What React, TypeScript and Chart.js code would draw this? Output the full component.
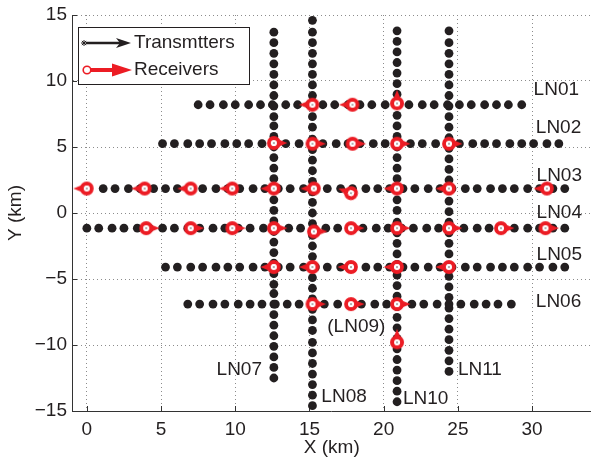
import React, { useEffect, useRef } from "react";
import { Chart, registerables } from "chart.js";

Chart.register(...registerables);

// ---- axes ----
const xTicks = [0, 5, 10, 15, 20, 25, 30];
const yTicks = [-15, -10, -5, 0, 5, 10, 15];
const xMin = -1;
const xMax = 33.9;
const yMin = -15;
const yMax = 15;

// ---- transmitter stations: horizontal lines (x positions, km) ----
const ln01Y = 8.2;
const ln01X = [7.5, 8.3, 9.2, 10.0, 10.9, 11.7, 12.5, 13.4, 14.2, 15.0, 15.9, 16.7, 17.6, 18.4, 19.2, 20.1, 20.9, 21.7, 22.6, 23.4, 24.3, 25.1, 25.9, 26.8, 27.6, 28.4, 29.3];
const ln02Y = 5.25;
const ln02X = [5.1, 5.9, 6.8, 7.6, 8.4, 9.3, 10.1, 10.9, 11.8, 12.6, 13.4, 14.3, 15.1, 15.9, 16.8, 17.6, 18.4, 19.3, 20.1, 21.0, 21.8, 22.6, 23.5, 24.3, 25.1, 26.0, 26.8, 27.6, 28.5, 29.3, 30.1, 31.0, 31.8];
const ln03Y = 1.85;
const ln03X = [1.1, 1.9, 2.8, 3.6, 4.5, 5.3, 6.1, 7.0, 7.8, 8.7, 9.5, 10.3, 11.2, 12.0, 12.9, 13.7, 14.6, 15.4, 16.2, 17.1, 17.9, 18.8, 19.6, 20.4, 21.3, 22.1, 23.0, 23.8, 24.6, 25.5, 26.3, 27.2, 28.0, 28.8, 29.7, 30.5, 31.4, 32.2];
const ln04Y = -1.15;
const ln04X = [0.0, 0.8, 1.7, 2.5, 3.4, 4.2, 5.1, 5.9, 6.8, 7.6, 8.5, 9.3, 10.2, 11.0, 11.9, 12.7, 13.6, 14.4, 15.3, 16.1, 16.9, 17.8, 18.6, 19.5, 20.3, 21.2, 22.0, 22.9, 23.7, 24.6, 25.4, 26.3, 27.1, 28.0, 28.8, 29.7, 30.5, 31.4, 32.2];
const ln05Y = -4.1;
const ln05X = [5.3, 6.1, 7.0, 7.8, 8.7, 9.5, 10.3, 11.2, 12.0, 12.9, 13.7, 14.6, 15.4, 16.2, 17.1, 17.9, 18.8, 19.6, 20.4, 21.3, 22.1, 23.0, 23.8, 24.6, 25.5, 26.3, 27.2, 28.0, 28.8, 29.7, 30.5, 31.4, 32.2];
const ln06Y = -6.9;
const ln06X = [6.8, 7.6, 8.5, 9.3, 10.2, 11.0, 11.8, 12.7, 13.5, 14.3, 15.2, 16.0, 16.9, 17.7, 18.5, 19.4, 20.2, 21.0, 21.9, 22.7, 23.6, 24.4, 25.2, 26.1, 26.9, 27.7, 28.6];

// ---- transmitter stations: vertical lines (y positions, km) ----
const ln07X = 12.6;
const ln07Y = [13.7, 12.9, 12.1, 11.3, 10.5, 9.7, 8.9, 8.1, 7.3, 6.6, 5.8, 5.0, 4.2, 3.4, 2.6, 1.8, 1.0, 0.2, -0.6, -1.4, -2.2, -3.0, -3.8, -4.6, -5.4, -6.1, -6.9, -7.7, -8.5, -9.3, -10.1, -10.9, -11.7, -12.5];
const ln08X = 15.2;
const ln08Y = [14.6, 13.7, 12.9, 12.1, 11.3, 10.5, 9.7, 8.9, 8.1, 7.3, 6.5, 5.6, 4.8, 4.0, 3.2, 2.4, 1.6, 0.8, 0.0, -0.8, -1.7, -2.5, -3.3, -4.1, -4.9, -5.7, -6.5, -7.3, -8.1, -8.9, -9.8, -10.6, -11.4, -12.2, -13.0, -13.8, -14.6];
const ln10X = 20.9;
const ln10Y = [13.8, 13.0, 12.2, 11.4, 10.6, 9.8, 9.0, 8.2, 7.4, 6.6, 5.8, 5.0, 4.2, 3.4, 2.6, 1.8, 1.0, 0.2, -0.7, -1.5, -2.3, -3.1, -3.9, -4.7, -5.5, -6.3, -7.1, -7.9, -8.7, -9.5, -10.3, -11.1, -11.9, -12.7, -13.5, -14.3];
const ln11X = 24.4;
const ln11Y = [13.8, 12.9, 12.1, 11.3, 10.5, 9.7, 8.9, 8.1, 7.3, 6.5, 5.7, 4.9, 4.1, 3.3, 2.5, 1.7, 0.9, 0.1, -0.7, -1.5, -2.3, -3.1, -4.0, -4.8, -5.6, -6.4, -7.2, -8.0, -8.8, -9.6, -10.4, -11.2, -12.0];

// ---- receivers (x, y in km, arrow direction in degrees, 0 = east, 180 = west, 270 = north) ----
const recvX = [15.2, 17.9, 20.9, 12.6, 15.2, 17.9, 20.9, 24.4, 0.0, 3.9, 7.0, 9.8, 12.6, 15.3, 17.8, 20.9, 24.4, 31.0, 4.0, 7.0, 9.8, 12.6, 15.3, 17.8, 20.9, 24.4, 27.9, 30.9, 12.6, 15.2, 17.8, 20.9, 24.4, 15.2, 17.8, 20.9, 20.9];
const recvY = [8.2, 8.2, 8.3, 5.3, 5.25, 5.25, 5.25, 5.25, 1.85, 1.85, 1.85, 1.85, 1.85, 1.85, 1.5, 1.85, 1.85, 1.85, -1.15, -1.15, -1.15, -1.15, -1.4, -1.15, -1.15, -1.15, -1.15, -1.15, -4.1, -4.1, -4.1, -4.1, -4.1, -6.9, -6.9, -6.9, -9.8];
const recvDir = [180, 180, 270, 0, 0, 0, 0, 0, 180, 180, 180, 180, 180, 180, 200, 180, 180, 180, 0, 0, 0, 0, 0, 0, 0, 0, 0, 0, 180, 180, 180, 180, 180, 0, 0, 0, 270];

// ---- line labels ----
const labelText = ["LN01", "LN02", "LN03", "LN04", "LN05", "LN06", "LN07", "LN08", "(LN09)", "LN10", "LN11"];
const labelX = [30.1, 30.25, 30.3, 30.3, 30.3, 30.25, 11.8, 15.8, 16.2, 21.3, 25.0];
const labelY = [9.35, 6.45, 2.85, 0.0, -3.2, -6.75, -11.9, -13.9, -8.65, -14.05, -11.9];
const labelAlign: CanvasTextAlign[] = ["left", "left", "left", "left", "left", "left", "right", "left", "left", "left", "left"];

const legendLabels = ["Transmtters", "Receivers"];
const xTitle = "X (km)";
const yTitle = "Y (km)";

const BLACK = "#231f20";
const RED = "#ec1c24";
const FONT = "'Liberation Sans', Arial, Helvetica, sans-serif";
const TEXT = "#231f20";

function makeReceiverImage(): HTMLCanvasElement {
  const c = document.createElement("canvas");
  c.width = 36;
  c.height = 36;
  const g = c.getContext("2d")!;
  const cx = 18, cy = 18;
  g.fillStyle = RED;
  g.beginPath();
  g.moveTo(cx + 3, cy - 4.2);
  g.lineTo(cx + 13.5, cy);
  g.lineTo(cx + 3, cy + 4.2);
  g.closePath();
  g.fill();
  g.beginPath();
  g.arc(cx, cy, 5.0, 0, Math.PI * 2);
  g.fillStyle = "#ffffff";
  g.fill();
  g.lineWidth = 3.8;
  g.strokeStyle = RED;
  g.stroke();
  g.beginPath();
  g.fillStyle = BLACK;
  g.arc(cx, cy, 0.7, 0, Math.PI * 2);
  g.fill();
  return c;
}

const hLines = [
  { xs: ln01X, y: ln01Y },
  { xs: ln02X, y: ln02Y },
  { xs: ln03X, y: ln03Y },
  { xs: ln04X, y: ln04Y },
  { xs: ln05X, y: ln05Y },
  { xs: ln06X, y: ln06Y },
];
const vLines = [
  { x: ln07X, ys: ln07Y },
  { x: ln08X, ys: ln08Y },
  { x: ln10X, ys: ln10Y },
  { x: ln11X, ys: ln11Y },
];

export default function App() {
  const ref = useRef<HTMLCanvasElement | null>(null);

  useEffect(() => {
    document.body.style.margin = "0";
    const canvas = ref.current;
    if (!canvas) return;
    const recvImg = makeReceiverImage();

    const txDatasets: any[] = [];
    hLines.forEach((l) => {
      txDatasets.push({
        data: l.xs.map((x) => ({ x, y: l.y })),
        pointRadius: 4.4,
        pointBackgroundColor: BLACK,
        pointBorderWidth: 0,
        showLine: false,
        order: 2,
      });
    });
    vLines.forEach((l) => {
      txDatasets.push({
        data: l.ys.map((y) => ({ x: l.x, y })),
        pointRadius: 4.4,
        pointBackgroundColor: BLACK,
        pointBorderWidth: 0,
        showLine: false,
        order: 2,
      });
    });

    const recvDataset = {
      data: recvX.map((x, i) => ({ x, y: recvY[i] })),
      pointStyle: recvImg,
      pointRotation: recvDir,
      pointRadius: 7,
      showLine: false,
      order: 0,
    };

    const overlay = {
      id: "overlay",
      beforeDatasetsDraw(chart: any) {
        const { ctx, chartArea: a, scales } = chart;
        const xs = scales.x, ys = scales.y;
        ctx.save();
        ctx.strokeStyle = "#333";
        ctx.lineWidth = 1;
        yTicks.forEach((v) => {
          const py = Math.round(ys.getPixelForValue(v)) + 0.5;
          ctx.beginPath();
          ctx.moveTo(a.left, py);
          ctx.lineTo(a.left + 5, py);
          ctx.stroke();
        });
        xTicks.forEach((v) => {
          const px = Math.round(xs.getPixelForValue(v)) + 0.5;
          ctx.beginPath();
          ctx.moveTo(px, a.bottom);
          ctx.lineTo(px, a.bottom - 5);
          ctx.stroke();
        });
        ctx.restore();
      },
      afterDatasetsDraw(chart: any) {
        const { ctx, chartArea: a, scales } = chart;
        const xs = scales.x, ys = scales.y;
        ctx.save();
        ctx.font = `19px ${FONT}`;
        ctx.fillStyle = TEXT;
        ctx.textBaseline = "middle";
        labelText.forEach((t, i) => {
          ctx.textAlign = labelAlign[i];
          ctx.fillText(t, xs.getPixelForValue(labelX[i]), ys.getPixelForValue(labelY[i]));
        });

        // legend
        const lx = a.left + 6, ly = a.top + 12, lw = 171, lh = 57;
        ctx.fillStyle = "#ffffff";
        ctx.fillRect(lx, ly, lw, lh);
        ctx.strokeStyle = BLACK;
        ctx.lineWidth = 1;
        ctx.strokeRect(lx + 0.5, ly + 0.5, lw, lh);

        const r1 = ly + 16;
        ctx.strokeStyle = BLACK;
        ctx.lineWidth = 2.6;
        ctx.beginPath();
        ctx.moveTo(lx + 8, r1);
        ctx.lineTo(lx + 44, r1);
        ctx.stroke();
        ctx.fillStyle = BLACK;
        ctx.beginPath();
        ctx.moveTo(lx + 53, r1);
        ctx.lineTo(lx + 38, r1 - 5);
        ctx.lineTo(lx + 42, r1);
        ctx.lineTo(lx + 38, r1 + 5);
        ctx.closePath();
        ctx.fill();
        ctx.lineWidth = 1;
        for (let k = 0; k < 4; k++) {
          const ang = (k * Math.PI) / 4;
          ctx.beginPath();
          ctx.moveTo(lx + 6 - 3 * Math.cos(ang), r1 - 3 * Math.sin(ang));
          ctx.lineTo(lx + 6 + 3 * Math.cos(ang), r1 + 3 * Math.sin(ang));
          ctx.stroke();
        }

        const r2 = ly + 43;
        ctx.strokeStyle = RED;
        ctx.lineWidth = 4;
        ctx.beginPath();
        ctx.moveTo(lx + 12, r2);
        ctx.lineTo(lx + 38, r2);
        ctx.stroke();
        ctx.fillStyle = RED;
        ctx.beginPath();
        ctx.moveTo(lx + 54, r2);
        ctx.lineTo(lx + 34, r2 - 6.5);
        ctx.lineTo(lx + 34, r2 + 6.5);
        ctx.closePath();
        ctx.fill();
        ctx.beginPath();
        ctx.arc(lx + 9, r2, 3.8, 0, Math.PI * 2);
        ctx.fillStyle = "#ffffff";
        ctx.fill();
        ctx.lineWidth = 1.6;
        ctx.strokeStyle = RED;
        ctx.stroke();

        ctx.fillStyle = TEXT;
        ctx.textAlign = "left";
        ctx.font = `19px ${FONT}`;
        ctx.fillText(legendLabels[0], lx + 56, r1);
        ctx.fillText(legendLabels[1], lx + 56, r2);

        // axis titles
        ctx.textAlign = "center";
        ctx.fillText(xTitle, xs.getPixelForValue(16.5), a.bottom + 37);
        ctx.save();
        ctx.translate(16, (a.top + a.bottom) / 2);
        ctx.rotate(-Math.PI / 2);
        ctx.fillText(yTitle, 0, 0);
        ctx.restore();
        ctx.restore();
      },
    };

    const fmt = (v: any) => String(v).replace("-", "\u2212");

    const chart = new Chart(canvas, {
      type: "scatter",
      data: { datasets: [recvDataset as any, ...txDatasets] },
      options: {
        animation: false,
        responsive: false,
        maintainAspectRatio: false,
        layout: { padding: { top: 15, right: 0, left: 0, bottom: 0 } },
        plugins: { legend: { display: false }, tooltip: { enabled: false } },
        scales: {
          x: {
            type: "linear",
            min: xMin,
            max: xMax,
            afterBuildTicks: (s: any) => {
              s.ticks = xTicks.map((v) => ({ value: v }));
            },
            afterFit: (s: any) => {
              s.height = 48;
              s.paddingLeft = 0;
              s.paddingRight = 0;
            },
            grid: { color: "#8c8c8c", lineWidth: 1, drawTicks: false },
            border: { color: "#333", width: 1, dash: [1, 3] },
            ticks: {
              padding: 7,
              color: TEXT,
              font: { family: FONT, size: 19 },
              maxRotation: 0,
              callback: fmt,
            },
          },
          y: {
            type: "linear",
            min: yMin,
            max: yMax,
            afterBuildTicks: (s: any) => {
              s.ticks = yTicks.map((v) => ({ value: v }));
            },
            afterFit: (s: any) => {
              s.width = 72;
              s.paddingTop = 0;
              s.paddingBottom = 0;
            },
            grid: { color: "#8c8c8c", lineWidth: 1, drawTicks: false },
            border: { color: "#333", width: 1, dash: [1, 3] },
            ticks: {
              padding: 5,
              color: TEXT,
              font: { family: FONT, size: 19 },
              callback: fmt,
            },
          },
        },
      },
      plugins: [overlay],
    });
    return () => chart.destroy();
  }, []);

  return (
    <div style={{ position: "fixed", left: 0, top: 0, width: 593, height: 459, overflow: "hidden", background: "#fff" }}>
      <canvas ref={ref} width={598} height={459} style={{ display: "block" }} />
    </div>
  );
}
